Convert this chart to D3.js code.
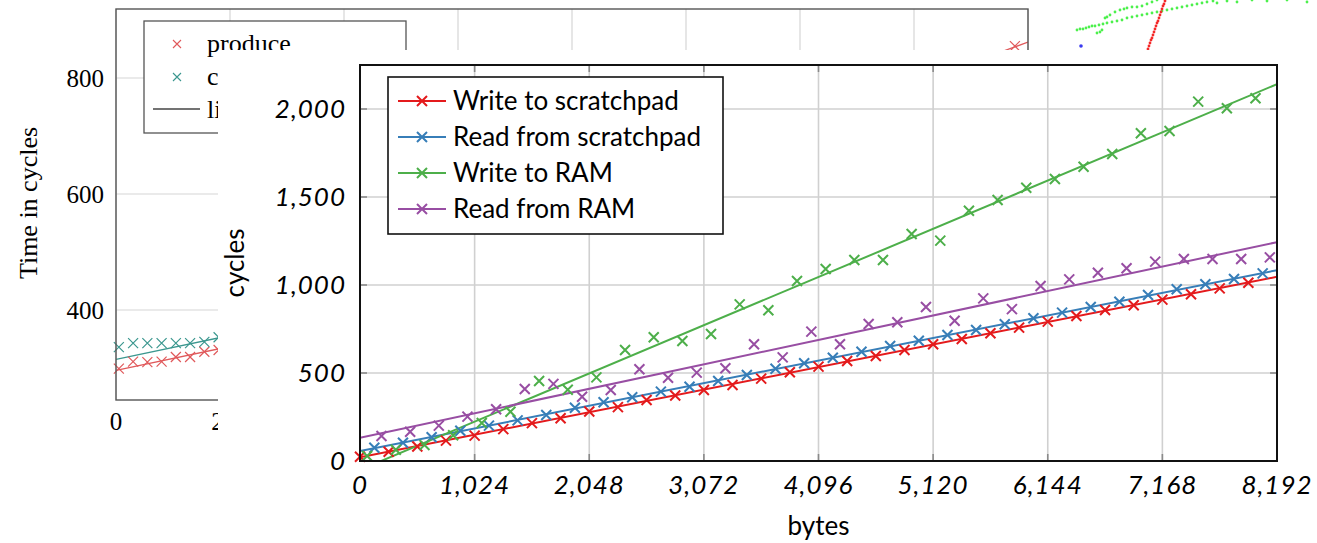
<!DOCTYPE html>
<html>
<head>
<meta charset="utf-8">
<script src="https://cdn.jsdelivr.net/npm/d3@7/dist/d3.min.js"></script>
<style>
body { margin: 0; background: #fff; }
svg { display: block; }
</style>
</head>
<body>
<script>
// ---- front chart data (bytes -> cycles) ----
var series = ["Write to scratchpad", "Read from scratchpad", "Write to RAM", "Read from RAM"];
var colors = ["#e41a1c", "#377eb8", "#4daf4a", "#984ea3"];
var xOffsets = [0, 128, 64, 192];   // each series sampled at a shifted grid
var sizes = [0, 256, 512, 768, 1024, 1280, 1536, 1792, 2048, 2304, 2560, 2816, 3072, 3328, 3584, 3840,
             4096, 4352, 4608, 4864, 5120, 5376, 5632, 5888, 6144, 6400, 6656, 6912, 7168, 7424, 7680, 7936];
var writeScratch = [24, 53, 82, 116, 144, 181, 215, 243, 281, 306, 347, 372, 403, 432, 468, 504,
                    536, 568, 597, 631, 663, 693, 726, 758, 792, 824, 858, 885, 917, 947, 981, 1013];
var readScratch = [75, 104, 135, 172, 201, 231, 261, 303, 334, 362, 394, 422, 455, 489, 524, 555,
                   587, 621, 653, 683, 716, 744, 777, 811, 843, 875, 905, 943, 976, 1004, 1034, 1066];
var writeRam = [28, 64, 91, 146, 216, 280, 455, 405, 475, 631, 703, 682, 722, 890, 857, 1023,
                1091, 1142, 1142, 1290, 1252, 1422, 1483, 1553, 1602, 1672, 1744, 1862, 1875, 2042, 2004, 2061];
var readRam = [142, 166, 201, 252, 294, 409, 438, 365, 403, 521, 473, 502, 527, 663, 589, 735,
               663, 778, 788, 875, 797, 924, 863, 994, 1032, 1070, 1095, 1133, 1148, 1148, 1148, 1157];
var xTicks = [0, 1024, 2048, 3072, 4096, 5120, 6144, 7168, 8192];
var yTicks = [0, 500, 1000, 1500, 2000];

// ---- chart behind it (only partly visible) ----
var bgXTicks = [0, 200, 400, 600, 800, 1000, 1200, 1400, 1600];
var bgYTicks = [400, 600, 800];
var bgLegend = ["produce", "consume", "linear fit"];
var produceX = [5, 30, 55, 80, 105, 130, 155, 180, 1577];
var produceY = [299, 311, 310, 311, 319, 319, 328, 331, 855];
var consumeX = [5, 30, 55, 80, 105, 130, 155, 180];
var consumeY = [336, 343, 343, 343, 343, 343, 345, 353];
var produceFit = [[0, 296], [180, 333], [1400, 790], [1600, 862]];
var consumeFit = [[0, 315], [180, 352], [1600, 800]];

// ---- scatter peeking in at the top right ----
var greenX = [0, 3, 6, 9, 12, 15, 18, 22, 26, 30, 35, 40, 45, 50, 55, 60, 65, 70, 75, 80, 85, 90, 95, 100,
              105, 110, 115, 120, 125, 130, 136, 20, 23, 25, 28, 30, 33, 38, 43, 47, 50, 55, 60, 65, 70, 75, 80,
              140, 150, 160, 175, 190, 210, 230];
var greenY = [20, 21, 21, 22, 23, 24, 24, 25, 26, 27, 28, 29, 30, 32, 33, 34, 35, 36, 37, 38, 39, 40, 41, 42,
              43, 44, 45, 46, 47, 48, 49, 17, 18, 20, 32, 33, 35, 38, 40, 41, 42, 43, 43, 44, 46, 48, 50,
              47, 49, 48, 50, 49, 50, 48];
var redDotX = [71, 72, 73, 74, 75, 76, 77, 78, 79, 80, 81, 82, 83, 84, 85, 86, 87, 88];
var redDotY = [1, 4, 7, 10, 12, 15, 18, 21, 24, 27, 29, 32, 35, 38, 41, 44, 46, 49];
var blueDotX = [4];
var blueDotY = [4];

var W = 1317, H = 543;
var svg = d3.select("body").append("svg")
            .attr("width", W)
            .attr("height", H);

// the front figure hides everything right of x=218 and below y=50
svg.append("clipPath").attr("id", "behind").append("path")
   .attr("d", "M0,0H" + W + "V50H218V" + H + "H0Z");

// ================= background chart =================
var bgx = d3.scaleLinear().domain([0, 1600]).range([116, 1028]);
var bgy = d3.scaleLinear().domain([400, 800]).range([310, 78]);
var bgTop = 9, bgBottom = 400;
var bg = svg.append("g").attr("clip-path", "url(#behind)")
            .style("font-family", "'Liberation Serif', serif");

bg.selectAll("line.vgrid").data(bgXTicks).enter().append("line")
  .attr("x1", function(d){ return bgx(d); }).attr("x2", function(d){ return bgx(d); })
  .attr("y1", bgTop).attr("y2", bgBottom)
  .attr("stroke", "#d6d6d6").attr("stroke-width", 1.2);
bg.selectAll("line.hgrid").data(bgYTicks).enter().append("line")
  .attr("x1", 116).attr("x2", 1028)
  .attr("y1", function(d){ return bgy(d); }).attr("y2", function(d){ return bgy(d); })
  .attr("stroke", "#d6d6d6").attr("stroke-width", 1.2);

svg.append("clipPath").attr("id", "bgclip").append("rect")
   .attr("x", 116).attr("y", bgTop).attr("width", 912).attr("height", bgBottom - bgTop);

var bgLine = d3.line().x(function(d){ return bgx(d[0]); }).y(function(d){ return bgy(d[1]); });
var bgLines = bg.append("g").attr("clip-path", "url(#bgclip)");
bgLines.append("path").datum(produceFit).attr("d", bgLine).attr("fill", "none")
  .attr("stroke", "#e0595b").attr("stroke-width", 1.3);
bgLines.append("path").datum(consumeFit).attr("d", bgLine).attr("fill", "none")
  .attr("stroke", "#3b978f").attr("stroke-width", 1.3);

function cross(g, cx, cy, r, color, w) {
  g.append("path")
   .attr("d", "M" + (cx - r) + "," + (cy - r) + "L" + (cx + r) + "," + (cy + r) +
              "M" + (cx - r) + "," + (cy + r) + "L" + (cx + r) + "," + (cy - r))
   .attr("stroke", color).attr("stroke-width", w).attr("fill", "none");
}
produceX.forEach(function(d, i){ cross(bg, bgx(d), bgy(produceY[i]), 5, "#e0595b", 1.2); });
consumeX.forEach(function(d, i){ cross(bg, bgx(d), bgy(consumeY[i]), 5, "#3b978f", 1.2); });

bg.append("rect").attr("x", 116).attr("y", bgTop).attr("width", 912).attr("height", bgBottom - bgTop)
  .attr("fill", "none").attr("stroke", "#555").attr("stroke-width", 1.4);

bg.selectAll("text.yt").data(bgYTicks).enter().append("text")
  .attr("x", 104).attr("y", function(d){ return bgy(d); }).attr("dy", "0.35em")
  .attr("text-anchor", "end").attr("font-size", 25).text(function(d){ return d; });
bg.selectAll("text.xt").data(bgXTicks).enter().append("text")
  .attr("x", function(d){ return bgx(d); }).attr("y", 430)
  .attr("text-anchor", "middle").attr("font-size", 25).text(function(d){ return d; });
bg.append("text").attr("transform", "translate(37,203) rotate(-90)")
  .attr("text-anchor", "middle").attr("font-size", 26).text("Time in cycles");

// legend of background chart
bg.append("rect").attr("x", 144).attr("y", 21).attr("width", 262).attr("height", 112)
  .attr("fill", "#fff").attr("stroke", "#555").attr("stroke-width", 1.3);
cross(bg, 177, 44, 4, "#e0595b", 1.1);
cross(bg, 177, 77, 4, "#3b978f", 1.1);
bg.append("line").attr("x1", 153).attr("x2", 200).attr("y1", 109).attr("y2", 109)
  .attr("stroke", "#444").attr("stroke-width", 1.3);
bg.selectAll("text.lg").data(bgLegend).enter().append("text")
  .attr("x", 207).attr("y", function(d, i){ return 44 + i * 33; }).attr("dy", "0.32em")
  .attr("font-size", 26).text(function(d){ return d; });

// ================= top-right scatter =================
var tx = d3.scaleLinear().domain([0, 240]).range([1077, 1317]);
var ty = d3.scaleLinear().domain([0, 50]).range([50, 0]);
var tr = svg.append("g").attr("clip-path", "url(#behind)");
tr.selectAll("circle.g").data(greenX).enter().append("circle")
  .attr("cx", function(d){ return tx(d); }).attr("cy", function(d, i){ return ty(greenY[i]); })
  .attr("r", 1.4).attr("fill", "#4cf04c");
tr.selectAll("circle.r").data(redDotX).enter().append("circle")
  .attr("cx", function(d){ return tx(d); }).attr("cy", function(d, i){ return ty(redDotY[i]); })
  .attr("r", 1.4).attr("fill", "#f42a2a");
tr.selectAll("circle.b").data(blueDotX).enter().append("circle")
  .attr("cx", function(d){ return tx(d); }).attr("cy", function(d, i){ return ty(blueDotY[i]); })
  .attr("r", 1.8).attr("fill", "#3a3af0");

// ================= front chart =================
svg.append("rect").attr("x", 218).attr("y", 50).attr("width", W - 218).attr("height", H - 50)
   .attr("fill", "#fff");

var m = { left: 360, right: 1277, top: 65, bottom: 461 };
var x = d3.scaleLinear().domain([0, 8192]).range([m.left, m.right]);
var y = d3.scaleLinear().domain([0, 2250]).range([m.bottom, m.top]);
var fg = svg.append("g").style("font-family", "Lato, 'Open Sans', sans-serif");

svg.append("clipPath").attr("id", "plotclip").append("rect")
   .attr("x", m.left).attr("y", m.top).attr("width", m.right - m.left).attr("height", m.bottom - m.top);

// grid
fg.selectAll("line.vg").data(xTicks).enter().append("line")
  .attr("x1", function(d){ return x(d); }).attr("x2", function(d){ return x(d); })
  .attr("y1", m.top).attr("y2", m.bottom)
  .attr("stroke", "#d0d0d0").attr("stroke-width", 1.6);
fg.selectAll("line.hg").data(yTicks).enter().append("line")
  .attr("x1", m.left).attr("x2", m.right)
  .attr("y1", function(d){ return y(d); }).attr("y2", function(d){ return y(d); })
  .attr("stroke", "#d0d0d0").attr("stroke-width", 1.6);

// inner tick marks
xTicks.forEach(function(d){
  fg.append("line").attr("x1", x(d)).attr("x2", x(d)).attr("y1", m.bottom).attr("y2", m.bottom - 7)
    .attr("stroke", "#8a8a8a").attr("stroke-width", 1.6);
  fg.append("line").attr("x1", x(d)).attr("x2", x(d)).attr("y1", m.top).attr("y2", m.top + 7)
    .attr("stroke", "#8a8a8a").attr("stroke-width", 1.6);
});
yTicks.forEach(function(d){
  fg.append("line").attr("x1", m.left).attr("x2", m.left + 7).attr("y1", y(d)).attr("y2", y(d))
    .attr("stroke", "#8a8a8a").attr("stroke-width", 1.6);
  fg.append("line").attr("x1", m.right).attr("x2", m.right - 7).attr("y1", y(d)).attr("y2", y(d))
    .attr("stroke", "#8a8a8a").attr("stroke-width", 1.6);
});

var allY = [writeScratch, readScratch, writeRam, readRam];

// least squares fit per series, drawn over the full x range
allY.forEach(function(vals, s){
  var xs = sizes.map(function(d){ return d + xOffsets[s]; });
  var mx = d3.mean(xs), my = d3.mean(vals);
  var num = d3.sum(xs, function(d, i){ return (d - mx) * (vals[i] - my); });
  var den = d3.sum(xs, function(d){ return (d - mx) * (d - mx); });
  var b = num / den, a = my - b * mx;
  fg.append("line")
    .attr("x1", x(0)).attr("y1", y(a))
    .attr("x2", x(8192)).attr("y2", y(a + b * 8192))
    .attr("stroke", colors[s]).attr("stroke-width", 2)
    .attr("clip-path", "url(#plotclip)");
});

allY.forEach(function(vals, s){
  vals.forEach(function(v, i){
    cross(fg, x(sizes[i] + xOffsets[s]), y(v), 5, colors[s], 2);
  });
});

// frame
fg.append("rect").attr("x", m.left).attr("y", m.top)
  .attr("width", m.right - m.left).attr("height", m.bottom - m.top)
  .attr("fill", "none").attr("stroke", "#111").attr("stroke-width", 2);

// tick labels
var fmt = d3.format(",");
fg.selectAll("text.yt").data(yTicks).enter().append("text")
  .attr("x", 346).attr("y", function(d){ return y(d); }).attr("dy", "0.36em")
  .attr("text-anchor", "end").attr("font-size", 26).attr("font-style", "italic")
  .attr("letter-spacing", 1).text(function(d){ return fmt(d); });
fg.selectAll("text.xt").data(xTicks).enter().append("text")
  .attr("x", function(d){ return x(d); }).attr("y", 485).attr("dy", "0.36em")
  .attr("text-anchor", "middle").attr("font-size", 26).attr("font-style", "italic")
  .attr("letter-spacing", 1).text(function(d){ return fmt(d); });

fg.append("text").attr("transform", "translate(244,263) rotate(-90)")
  .attr("text-anchor", "middle").attr("font-size", 26).text("cycles");
fg.append("text").attr("x", x(4096)).attr("y", 535)
  .attr("text-anchor", "middle").attr("font-size", 26).text("bytes");

// legend
fg.append("rect").attr("x", 388).attr("y", 77).attr("width", 335).attr("height", 157)
  .attr("fill", "#fff").attr("stroke", "#111").attr("stroke-width", 1.6);
series.forEach(function(name, s){
  var ly = 101 + s * 36;
  fg.append("line").attr("x1", 398).attr("x2", 446).attr("y1", ly).attr("y2", ly)
    .attr("stroke", colors[s]).attr("stroke-width", 2);
  cross(fg, 422, ly, 5, colors[s], 2);
  fg.append("text").attr("x", 453).attr("y", ly).attr("dy", "0.36em")
    .attr("font-size", 26).text(name);
});
</script>
</body>
</html>
